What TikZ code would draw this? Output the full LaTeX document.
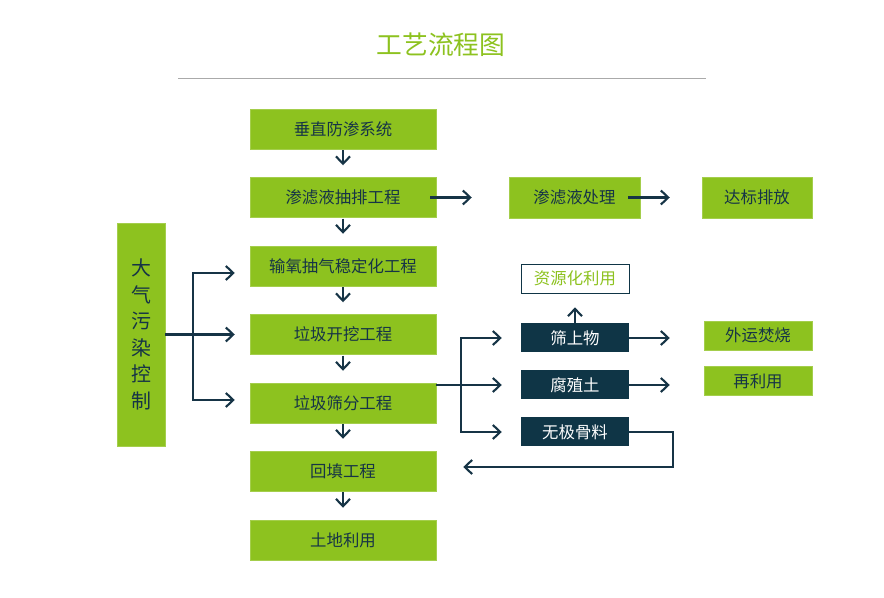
\documentclass[tikz,border=0pt]{standalone}
\usepackage{fontspec}
\setmainfont{Noto Sans CJK SC}
\usepackage{xcolor}
\usepackage{tikz}
\usetikzlibrary{arrows.meta, positioning, calc}
\definecolor{mygreen}{RGB}{141,194,31}
\definecolor{mynavy}{RGB}{22,52,70}
\definecolor{mydark}{RGB}{15,53,70}
\definecolor{mygray}{RGB}{170,170,170}
\tikzset{
  mainbox/.style={rectangle, fill=mygreen, draw=mygreen!80!white, line width=0.4pt,
    minimum width=5.58cm, minimum height=1.2cm, inner sep=0pt,
    text=mynavy, font=\fontsize{14}{16}\selectfont},
  sidebox/.style={mainbox, minimum width=3.3cm, minimum height=1.23cm},
  outbox/.style={mainbox, minimum width=3.24cm, minimum height=0.87cm},
  darkbox/.style={rectangle, fill=mydark, minimum width=3.24cm, minimum height=0.87cm,
    inner sep=0pt, text=white, font=\fontsize{14}{16}\selectfont},
  resbox/.style={rectangle, draw=mydark, fill=white, line width=0.6pt,
    minimum width=3.24cm, minimum height=0.87cm, inner sep=0pt,
    text=mygreen, font=\fontsize{14}{16}\selectfont},
  arr/.style={-{Straight Barb[length=0.22cm, width=0.42cm, line width=1.8pt]},
    line width=1.8pt, color=mynavy},
  line/.style={line width=1.8pt, color=mynavy}
}

\begin{document}
\begin{tikzpicture}[x=0.03cm, y=-0.03cm]
  \useasboundingbox (0,0) rectangle (884,598);
  \fill[white] (0,0) rectangle (884,598);

  % Title
  \node[text=mygreen, font=\fontsize{22}{24}\selectfont] (title) at (441,45) {工艺流程图};
  \draw[mygray, line width=0.8pt] (178,78) coordinate (rule1) -- (706,78) coordinate (rule2);

  % Main process column
  \node[mainbox] (b1) at (343,129) {垂直防渗系统};
  \node[mainbox] (b2) at (343,197.5) {渗滤液抽排工程};
  \node[mainbox] (b3) at (343,266) {输氧抽气稳定化工程};
  \node[mainbox] (b4) at (343,334.5) {垃圾开挖工程};
  \node[mainbox] (b5) at (343,403) {垃圾筛分工程};
  \node[mainbox] (b6) at (343,471) {回填工程};
  \node[mainbox] (b7) at (343,540) {土地利用};

  \foreach \a/\b in {b1/b2, b2/b3, b3/b4, b4/b5, b5/b6, b6/b7}
    \draw[arr, shorten <=0.03cm, shorten >=0.36cm] (\a.south) -- (\b.north);

  % Air pollution control
  \node[mainbox, minimum width=1.44cm, minimum height=6.69cm, text width=1.44cm, align=center,
    font=\fontsize{17}{22.6}\selectfont] (air) at (141,334.5) {大\\气\\污\\染\\控\\制};
  \coordinate (lsplit) at (193,334.5);
  \draw[line] (air.east) -- (lsplit);
  \draw[arr] (lsplit) |- ([shift={(-15,7)}]b3.west);
  \draw[arr, shorten >=0.45cm] (lsplit) -- (b4.west);
  \draw[arr] (lsplit) |- ([shift={(-15,-3)}]b5.west);

  % Leachate treatment
  \node[sidebox, minimum width=3.93cm] (treat) at (574.5,197.5) {渗滤液处理};
  \node[sidebox] (disch) at (757,197.5) {达标排放};
  \draw[arr, shorten >=1.11cm] ([shift={(-6,0)}]b2.east) -- (treat.west);
  \draw[arr, shorten >=0.96cm] ([shift={(-12,0)}]treat.east) -- (disch.west);

  % Screening products
  \node[resbox] (res) at (575,278.5) {资源化利用};
  \node[darkbox] (sieve) at (575,338) {筛上物};
  \node[darkbox] (humus) at (575,385) {腐殖土};
  \node[darkbox] (agg) at (575,432) {无极骨料};
  \node[outbox] (burn) at (758,335.5) {外运焚烧};
  \node[outbox] (reuse) at (758,381) {再利用};

  \coordinate (rsplit) at (461,385);
  \draw[line] ([shift={(0,-18)}]b5.east) -- (rsplit);
  \draw[arr, shorten >=0.57cm] (rsplit) |- (sieve.west);
  \draw[arr, shorten >=0.57cm] (rsplit) -- (humus.west);
  \draw[arr, shorten >=0.57cm] (rsplit) |- (agg.west);

  \draw[arr, shorten >=0.42cm] (sieve.north) -- (res.south);
  \draw[arr, shorten >=1.02cm] (sieve.east) -- (sieve.east -| burn.west);
  \draw[arr, shorten >=1.02cm] (humus.east) -- (humus.east -| reuse.west);

  % Aggregate back to backfill
  \draw[arr] (agg.east) -- ++(44,0) |- ([shift={(27,-4)}]b6.east);
\end{tikzpicture}
\end{document}
